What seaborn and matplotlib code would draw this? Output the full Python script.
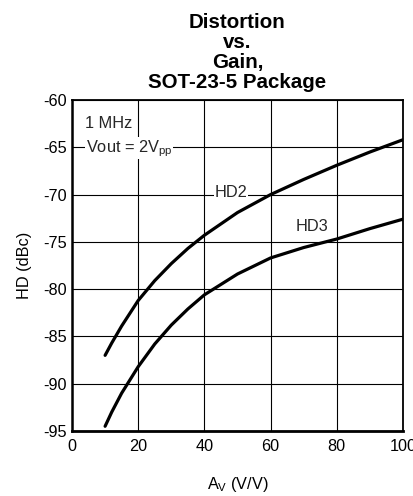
import matplotlib
matplotlib.use("Agg")
import matplotlib.pyplot as plt
import seaborn as sns
import pandas as pd

gain = [10, 12, 15, 20, 25, 30, 35, 40, 50, 60, 70, 80, 90, 100]
hd2 = [-87.0, -85.7, -83.9, -81.2, -79.1, -77.3, -75.7, -74.3, -71.9, -70.0, -68.4, -66.9, -65.5, -64.2]
hd3 = [-94.5, -93.0, -91.0, -88.2, -85.8, -83.8, -82.1, -80.6, -78.4, -76.7, -75.6, -74.7, -73.6, -72.6]

df = pd.concat([
    pd.DataFrame({"gain": gain, "hd": hd2, "series": "HD2"}),
    pd.DataFrame({"gain": gain, "hd": hd3, "series": "HD3"}),
])

sns.set_theme(style="white")
plt.rcParams['font.family'] = ['Liberation Sans', 'DejaVu Sans']
plt.rcParams['axes.unicode_minus'] = False

fig = plt.figure(figsize=(4.13, 4.96), dpi=100)
ax = fig.add_axes([72/413, 1-431/496, 331/413, 331/496])

sns.lineplot(data=df, x="gain", y="hd", units="series", estimator=None,
             color="black", linewidth=2.3, ax=ax, legend=False, zorder=3)

ax.set_xlim(0, 100)
ax.set_ylim(-95, -60)
ax.set_xticks([0, 20, 40, 60, 80, 100])
ax.set_yticks(range(-95, -59, 5))
ax.grid(True, color="black", linewidth=0.8)
for s in ax.spines.values():
    s.set_color("black")
    s.set_linewidth(1.3)
ax.spines["bottom"].set_linewidth(2.0)
ax.spines["left"].set_linewidth(1.8)
ax.tick_params(axis="both", length=0, labelsize=11.7, colors="black")
ax.tick_params(axis="x", pad=6)
ax.tick_params(axis="y", pad=4)

ax.set_xlabel("A$_\\mathregular{V}$ (V/V)", fontsize=11.7, labelpad=15, color="black")
ax.set_ylabel("HD (dBc)", fontsize=11.7, labelpad=8, color="black")
ax.set_title("Distortion\nvs.\nGain,\nSOT-23-5 Package", fontsize=14.8, fontweight="bold",
             linespacing=1.06, pad=9, color="black")

bb = dict(facecolor="white", edgecolor="none", pad=0.5)
ax.text(3.9, -62.5, "1 MHz", fontsize=11.8, ha="left", va="center", bbox=bb, zorder=4)
ax.text(4.1, -65.1, "Vout = 2V$_\\mathregular{pp}$", fontsize=11.8, ha="left", va="center", bbox=bb, zorder=4)
ax.text(48, -69.8, "HD2", fontsize=11.8, ha="center", va="center", bbox=bb, zorder=4)
ax.text(72.4, -73.4, "HD3", fontsize=11.8, ha="center", va="center", bbox=bb, zorder=4)

fig.savefig("out.png", dpi=100)
